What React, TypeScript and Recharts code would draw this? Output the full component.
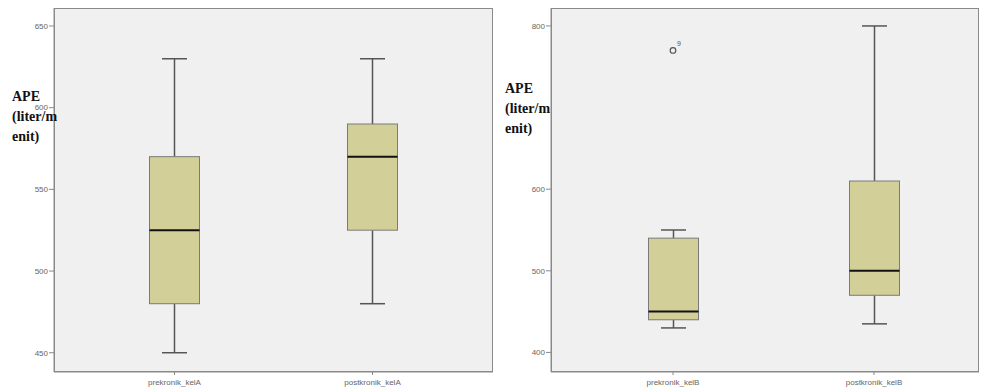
import React from 'react';
import { ComposedChart, Bar, Scatter, XAxis, YAxis, CartesianGrid } from 'recharts';

// kelompok A
const catsA = ['prekronik_kelA', 'postkronik_kelA'];
const minA = [450, 480];
const q1A = [480, 525];
const medA = [525, 570];
const q3A = [570, 590];
const maxA = [630, 630];
const ticksA = [450, 500, 550, 600, 650];

// kelompok B
const catsB = ['prekronik_kelB', 'postkronik_kelB'];
const minB = [430, 435];
const q1B = [440, 470];
const medB = [450, 500];
const q3B = [540, 610];
const maxB = [550, 800];
const ticksB = [400, 500, 600, 800];
const outlierB = [770, null];
const outlierIdB = ['9', ''];

const BOX_FILL = '#d3cf98';
const FRAME = '#8a8a8a';
const CHART_H = 388;
const TOP = 8;
const X_AXIS_H = 16;

const buildRows = (cats: string[], mn: number[], q1: number[], med: number[], q3: number[], mx: number[], out?: (number | null)[], ids?: string[]) =>
  cats.map((name, i) => ({
    name,
    range: [mn[i], mx[i]],
    min: mn[i],
    q1: q1[i],
    med: med[i],
    q3: q3[i],
    max: mx[i],
    outlier: out ? out[i] : null,
    outlierId: ids ? ids[i] : '',
  }));

const dataA = buildRows(catsA, minA, q1A, medA, q3A, maxA);
const dataB = buildRows(catsB, minB, q1B, medB, q3B, maxB, outlierB, outlierIdB);

const BoxShape = (props: any) => {
  const { x, y, width, height, payload } = props;
  const top = Math.min(y, y + height);
  const bottom = Math.max(y, y + height);
  const span = payload.max - payload.min;
  const py = (v: number) => bottom - ((v - payload.min) / span) * (bottom - top);
  const cx = x + width / 2;
  const cap = width / 4;
  return (
    <g>
      <line x1={cx} x2={cx} y1={py(payload.max)} y2={py(payload.q3)} stroke="#555" strokeWidth={1.5} />
      <line x1={cx} x2={cx} y1={py(payload.q1)} y2={py(payload.min)} stroke="#555" strokeWidth={1.5} />
      <line x1={cx - cap} x2={cx + cap} y1={py(payload.max)} y2={py(payload.max)} stroke="#555" strokeWidth={1.5} />
      <line x1={cx - cap} x2={cx + cap} y1={py(payload.min)} y2={py(payload.min)} stroke="#555" strokeWidth={1.5} />
      <rect x={x} y={py(payload.q3)} width={width} height={py(payload.q1) - py(payload.q3)} fill={BOX_FILL} stroke="#7a7a7a" strokeWidth={1} />
      <line x1={x} x2={x + width} y1={py(payload.med)} y2={py(payload.med)} stroke="#111" strokeWidth={2} />
    </g>
  );
};

const OutlierShape = (props: any) => {
  const { cx, cy, payload } = props;
  if (cx == null || cy == null || payload.outlier == null) return <g />;
  return (
    <g>
      <circle cx={cx} cy={cy} r={2.8} fill="none" stroke="#555" strokeWidth={1.2} />
      <text x={cx + 4} y={cy - 4} fontSize={7} fill="#555" fontFamily="Arial, sans-serif">{payload.outlierId}</text>
    </g>
  );
};

const tickStyle = { fontSize: 8, fill: '#666', fontFamily: 'Arial, Liberation Sans, sans-serif' };

const yLabelStyle: React.CSSProperties = {
  position: 'absolute',
  fontFamily: '"Liberation Serif", "Times New Roman", serif',
  fontWeight: 'bold',
  fontSize: 14,
  lineHeight: '20px',
  color: '#111',
};

type PanelProps = {
  data: any[];
  width: number;
  yWidth: number;
  rightMargin: number;
  domain: [number, number];
  ticks: number[];
  padLeft: number;
  padRight: number;
  showOutliers?: boolean;
};

const Panel = ({ data, width, yWidth, rightMargin, domain, ticks, padLeft, padRight, showOutliers }: PanelProps) => (
  <div style={{ position: 'relative', width, height: CHART_H }}>
    <ComposedChart width={width} height={CHART_H} data={data} margin={{ top: TOP, right: rightMargin, bottom: 0, left: 0 }}>
      <CartesianGrid horizontal={false} vertical={false} fill="#f0f0f0" />
      <XAxis
        dataKey="name"
        height={X_AXIS_H}
        padding={{ left: padLeft, right: padRight }}
        tickSize={3}
        tickMargin={4}
        stroke={FRAME}
        tick={tickStyle}
        interval={0}
      />
      <YAxis
        type="number"
        domain={domain}
        ticks={ticks}
        allowDataOverflow
        width={yWidth}
        tickSize={5}
        tickMargin={1}
        stroke={FRAME}
        tick={tickStyle}
      />
      <Bar dataKey="range" barSize={50} shape={<BoxShape />} isAnimationActive={false} />
      {showOutliers && <Scatter dataKey="outlier" shape={<OutlierShape />} isAnimationActive={false} />}
    </ComposedChart>
    {/* plot frame */}
    <div
      style={{
        position: 'absolute',
        left: yWidth,
        top: TOP,
        width: width - yWidth - rightMargin,
        height: CHART_H - TOP - X_AXIS_H,
        border: `1px solid ${FRAME}`,
        boxSizing: 'border-box',
        pointerEvents: 'none',
      }}
    />
  </div>
);

export default function App() {
  return (
    <div style={{ position: 'absolute', left: 0, top: 0, width: 986, height: 388, background: '#fff', overflow: 'hidden' }}>
      <div style={{ position: 'absolute', left: 0, top: 0 }}>
        <Panel data={dataA} width={500} yWidth={54} rightMargin={7} domain={[438.2, 661]} ticks={ticksA} padLeft={21.5} padRight={21.5} />
      </div>
      <div style={{ position: 'absolute', left: 500, top: 0 }}>
        <Panel data={dataB} width={486} yWidth={51} rightMargin={7} domain={[376, 822]} ticks={ticksB} padLeft={21.5} padRight={4.5} showOutliers />
      </div>
      <div style={{ ...yLabelStyle, left: 12, top: 87 }}>APE<br />(liter/m<br />enit)</div>
      <div style={{ ...yLabelStyle, left: 505, top: 79 }}>APE<br />(liter/m<br />enit)</div>
    </div>
  );
}
